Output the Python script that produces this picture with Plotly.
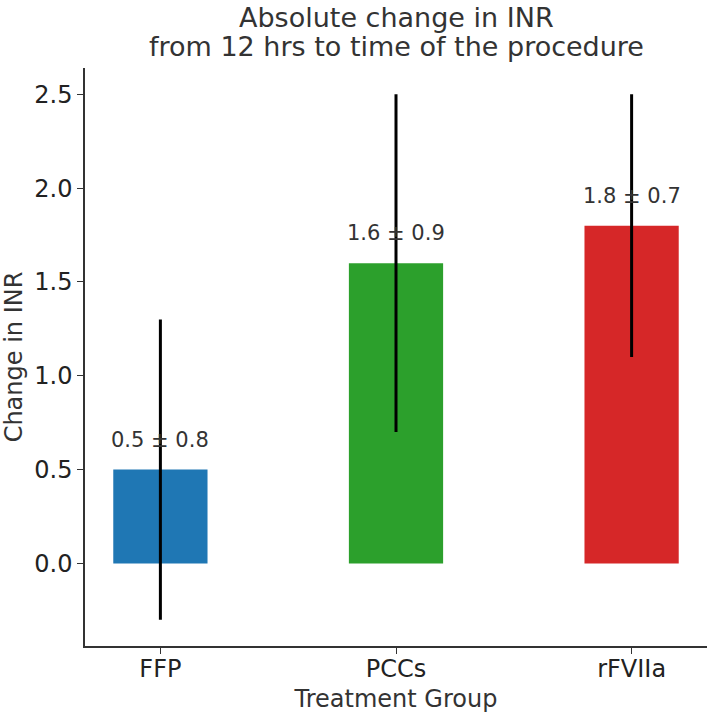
import plotly.graph_objects as go

groups = ["FFP", "PCCs", "rFVIIa"]
means = [0.5, 1.6, 1.8]
sds = [0.8, 0.9, 0.7]
colors = ["#1f77b4", "#2ca02c", "#d62728"]
y_ticks = [0.0, 0.5, 1.0, 1.5, 2.0, 2.5]
title_lines = ["Absolute change in INR", "from 12 hrs to time of the procedure"]

font = "DejaVu Sans"
W, H = 712, 713
ML, MR, MT, MB = 85, 5, 68, 67
plot_h = H - MT - MB

fig = go.Figure()
fig.add_trace(go.Bar(
    x=list(range(len(groups))), y=means, width=0.4,
    marker=dict(color=colors, line=dict(width=0)),
    error_y=dict(type="data", array=sds, visible=True, thickness=3, width=0, color="black"),
    showlegend=False,
))

for i, (m, s) in enumerate(zip(means, sds)):
    fig.add_annotation(x=i, y=m + 0.1, text=f"{m} ± {s}", showarrow=False,
                       yanchor="bottom", xanchor="center", yshift=-3,
                       font=dict(family=font, size=21, color="#333333"))

# title lines (centres at 17px and 46px from the top)
for line, cy in zip(title_lines, [17, 46]):
    fig.add_annotation(xref="paper", yref="paper", x=0.5, y=1 + (MT - cy) / plot_h,
                       text=line, showarrow=False, xanchor="center", yanchor="middle",
                       font=dict(family=font, size=27, color="#333333"))

fig.update_layout(
    width=W, height=H,
    margin=dict(l=ML, r=MR, t=MT, b=MB, pad=0),
    paper_bgcolor="white", plot_bgcolor="white",
    font=dict(family=font, color="#333333"),
    xaxis=dict(range=[-0.32, 2.32], tickvals=list(range(len(groups))), ticktext=groups,
               showline=True, linecolor="#333333", linewidth=1.5, mirror=False,
               ticks="outside", ticklen=6, tickcolor="#333333", tickwidth=1.2,
               showgrid=False, zeroline=False, ticklabelstandoff=-6,
               tickfont=dict(family=font, size=24, color="#222222"),
               title=dict(text="Treatment Group", font=dict(family=font, size=24, color="#333333"), standoff=10)),
    yaxis=dict(range=[-0.44, 2.64], tickvals=y_ticks, ticktext=[f"{v:.1f}" for v in y_ticks],
               showline=True, linecolor="#333333", linewidth=1.5,
               ticks="outside", ticklen=6, tickcolor="#333333", tickwidth=1.2,
               showgrid=False, zeroline=False,
               tickfont=dict(family=font, size=24, color="#222222"),
               title=dict(text="Change in INR", font=dict(family=font, size=24, color="#333333"), standoff=6)),
)

fig.write_html("out.html", config={"displayModeBar": False},
               post_script="document.body.style.margin='0';document.body.style.padding='0';")
